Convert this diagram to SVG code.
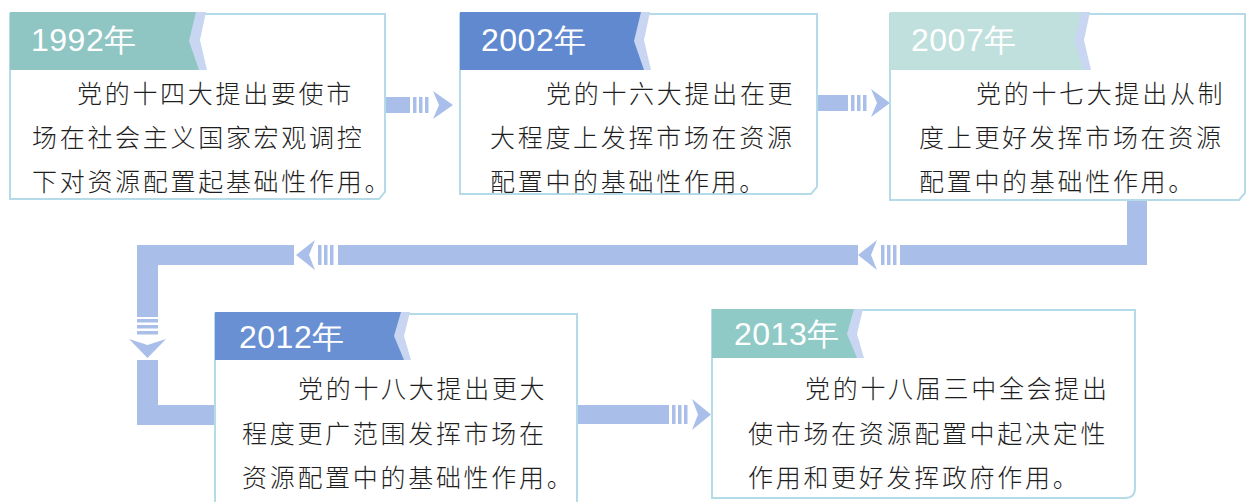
<svg xmlns="http://www.w3.org/2000/svg" width="1248" height="502" viewBox="0 0 1248 502">
<defs>
<style>
.band{fill:#a9bfe9}
.frame{fill:#fff;stroke:#b5dbe9;stroke-width:2}
.fold{fill:#c9d6f2}
.yr{font-family:"Liberation Sans",Arial,sans-serif;font-size:32px;letter-spacing:0.5px;fill:#fff}
.tx{font-family:"Noto Sans CJK SC","Noto Sans CJK TC",sans-serif;font-size:25px;font-weight:300;letter-spacing:2.7px;fill:#1e1e1e}
</style>
</defs>
<rect width="1248" height="502" fill="#fff"/>
<g id="connectors">
  <!-- 1992 -> 2002 -->
  <rect class="band" x="386" y="97" width="24" height="16"/>
  <rect class="band" x="413" y="97" width="3.5" height="16"/>
  <rect class="band" x="419" y="97" width="3.5" height="16"/>
  <rect class="band" x="425" y="97" width="3.5" height="16"/>
  <polygon class="band" points="433,91 453,105 433,119 439,105"/>
  <!-- 2002 -> 2007 -->
  <rect class="band" x="817" y="95" width="31" height="16"/>
  <rect class="band" x="851" y="95" width="3.5" height="16"/>
  <rect class="band" x="857" y="95" width="3.5" height="16"/>
  <rect class="band" x="863" y="95" width="3.5" height="16"/>
  <polygon class="band" points="871,89 890,103 871,117 877,103"/>
  <!-- loop 2007 -> 2012 -->
  <rect class="band" x="1127" y="198" width="20" height="67"/>
  <rect class="band" x="900" y="245" width="247" height="20"/>
  <rect class="band" x="881" y="245" width="3.5" height="20"/>
  <rect class="band" x="887" y="245" width="3.5" height="20"/>
  <rect class="band" x="893" y="245" width="3.5" height="20"/>
  <polygon class="band" points="877,240 858,255 877,270 871,255"/>
  <rect class="band" x="338" y="245" width="520" height="20"/>
  <rect class="band" x="318" y="245" width="3.5" height="20"/>
  <rect class="band" x="324" y="245" width="3.5" height="20"/>
  <rect class="band" x="330" y="245" width="3.5" height="20"/>
  <polygon class="band" points="315,240 296,255 315,270 309,255"/>
  <rect class="band" x="137" y="245" width="157" height="20"/>
  <rect class="band" x="137" y="245" width="21" height="72"/>
  <rect class="band" x="137" y="319" width="21" height="3.5"/>
  <rect class="band" x="137" y="325" width="21" height="3.5"/>
  <rect class="band" x="137" y="331" width="21" height="3.5"/>
  <polygon class="band" points="129,339 147.5,358 166,339 147.5,345"/>
  <rect class="band" x="137" y="360" width="21" height="65"/>
  <rect class="band" x="137" y="405" width="90" height="20"/>
  <!-- 2012 -> 2013 -->
  <rect class="band" x="570" y="405" width="99" height="19"/>
  <rect class="band" x="672" y="405" width="3.5" height="19"/>
  <rect class="band" x="678" y="405" width="3.5" height="19"/>
  <rect class="band" x="684" y="405" width="3.5" height="19"/>
  <polygon class="band" points="692,399 711,414.5 692,430 698,414.5"/>
</g>
<g id="node-1992">
  <path class="frame" d="M10,14 H385 V192 L379,199 H10 Z"/>
  <polygon class="fold" points="186,12 206,12 200,40 207,70 186,70"/>
  <polygon fill="#8fc6c3" points="10,12 196,12 189,41 199,70 10,70"/>
  <text class="yr" x="31" y="51">1992年</text>
  <text class="tx" x="77" y="103">党的十四大提出要使市</text>
  <text class="tx" x="32" y="147">场在社会主义国家宏观调控</text>
  <text class="tx" x="32" y="191">下对资源配置起基础性作用。</text>
</g>
<g id="node-2002">
  <path class="frame" d="M460,14 H817 V187 L811,194 H460 Z"/>
  <polygon class="fold" points="630,12 650,12 644,40 651,70 630,70"/>
  <polygon fill="#6089d0" points="460,12 641,12 634,41 644,70 460,70"/>
  <text class="yr" x="481" y="51">2002年</text>
  <text class="tx" x="546" y="103">党的十六大提出在更</text>
  <text class="tx" x="490" y="147">大程度上发挥市场在资源</text>
  <text class="tx" x="490" y="191">配置中的基础性作用。</text>
</g>
<g id="node-2007">
  <path class="frame" d="M890,14 H1245 V193 L1239,200 H890 Z"/>
  <polygon class="fold" points="1070,12 1090,12 1084,40 1091,70 1070,70"/>
  <polygon fill="#bfe0dd" points="890,12 1081,12 1074,41 1084,70 890,70"/>
  <text class="yr" x="911" y="51">2007年</text>
  <text class="tx" x="976" y="103">党的十七大提出从制</text>
  <text class="tx" x="919" y="147">度上更好发挥市场在资源</text>
  <text class="tx" x="919" y="191">配置中的基础性作用。</text>
</g>
<g id="node-2012">
  <path class="frame" d="M215,314 H577 V510 H215 Z"/>
  <polygon class="fold" points="390,312 410,312 404,336 411,360 390,360"/>
  <polygon fill="#6890d3" points="215,312 401,312 394,336 404,360 215,360"/>
  <text class="yr" x="239" y="348">2012年</text>
  <text class="tx" x="298" y="398">党的十八大提出更大</text>
  <text class="tx" x="242" y="443">程度更广范围发挥市场在</text>
  <text class="tx" x="242" y="487">资源配置中的基础性作用。</text>
</g>
<g id="node-2013">
  <path class="frame" d="M712,310 H1135 V488 Q1135,498 1125,498 H712 Z"/>
  <polygon class="fold" points="843,309 863,309 857,334 864,358 843,358"/>
  <polygon fill="#8fcac7" points="712,309 854,309 847,334 857,358 712,358"/>
  <text class="yr" x="734" y="345">2013年</text>
  <text class="tx" x="805" y="398">党的十八届三中全会提出</text>
  <text class="tx" x="748" y="443">使市场在资源配置中起决定性</text>
  <text class="tx" x="748" y="487">作用和更好发挥政府作用。</text>
</g>
</svg>
